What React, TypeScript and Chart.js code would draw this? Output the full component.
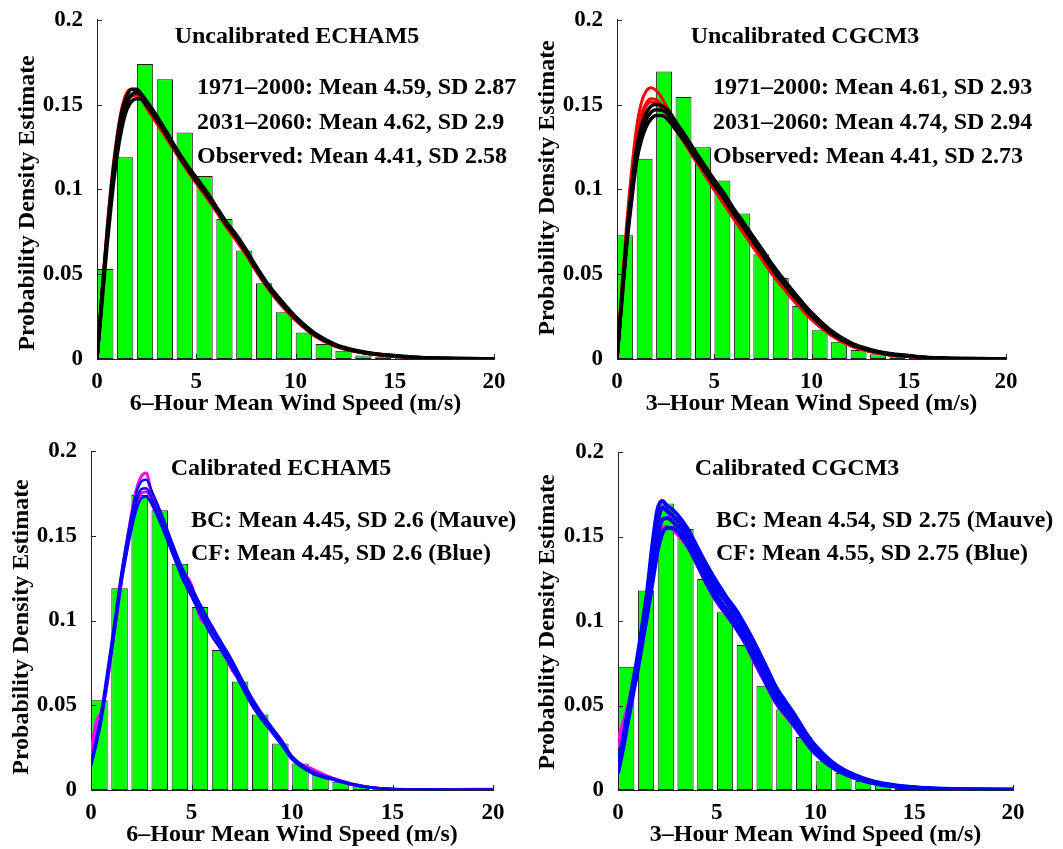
import React, { useEffect, useRef } from 'react';
import { Chart, registerables } from 'chart.js';

Chart.register(...registerables);

// ---------- DATA ----------
// histogram bin centres (m/s)
const BIN_CENTERS = [0.42, 1.42, 2.42, 3.42, 4.42, 5.42, 6.42, 7.42, 8.42, 9.42, 10.42, 11.42, 12.42, 13.42, 14.42, 15.42, 16.42, 17.42, 18.42, 19.42];
// observed histograms (probability density)
const OBS_6H_HIST = [0.053, 0.119, 0.174, 0.165, 0.1335, 0.1079, 0.0826, 0.064, 0.0446, 0.0275, 0.0156, 0.0089, 0.0048, 0.0021, 0.001, 0.0005, 0.0002, 0.0001, 0, 0];
const OBS_3H_HIST = [0.073, 0.118, 0.1695, 0.1545, 0.1248, 0.1052, 0.0858, 0.0617, 0.0478, 0.0313, 0.017, 0.0101, 0.0053, 0.0028, 0.0018, 0.0008, 0.0004, 0.0001, 0, 0];

// wind speed grid for the density curves
const X_GRID = [0, 0.25, 0.5, 0.75, 1, 1.25, 1.5, 1.75, 2, 2.25, 2.5, 2.75, 3, 3.5, 4, 4.5, 5, 5.5, 6, 6.5, 7, 7.5, 8, 8.5, 9, 9.5, 10, 11, 12, 13, 14, 15, 16, 18, 20];

// Uncalibrated ECHAM5
const ECHAM_1971_A = [0, 0.040, 0.076, 0.107, 0.131, 0.148, 0.157, 0.159, 0.157, 0.153, 0.148, 0.1435, 0.139, 0.130, 0.121, 0.112, 0.1035, 0.0955, 0.087, 0.078, 0.070, 0.0615, 0.052, 0.0432, 0.0355, 0.0288, 0.0228, 0.0133, 0.0075, 0.0044, 0.0026, 0.0016, 0.0008, 0.0002, 0.0001];
const ECHAM_1971_B = [0, 0.036, 0.071, 0.101, 0.125, 0.142, 0.151, 0.155, 0.1555, 0.1535, 0.150, 0.146, 0.141, 0.1315, 0.1218, 0.113, 0.1045, 0.0965, 0.0878, 0.079, 0.071, 0.0625, 0.053, 0.0442, 0.0365, 0.0297, 0.0235, 0.0138, 0.0078, 0.0046, 0.0027, 0.0017, 0.0009, 0.0002, 0.0001];
const ECHAM_2031_A = [0, 0.038, 0.073, 0.104, 0.128, 0.146, 0.155, 0.159, 0.159, 0.156, 0.152, 0.148, 0.1435, 0.134, 0.124, 0.115, 0.107, 0.099, 0.090, 0.081, 0.0735, 0.0647, 0.055, 0.046, 0.0384, 0.0315, 0.025, 0.0150, 0.0087, 0.0052, 0.0031, 0.0020, 0.0011, 0.0003, 0.0002];
const ECHAM_2031_B = [0, 0.036, 0.070, 0.100, 0.124, 0.141, 0.151, 0.156, 0.157, 0.155, 0.151, 0.147, 0.1425, 0.133, 0.123, 0.114, 0.1055, 0.098, 0.089, 0.080, 0.0725, 0.0637, 0.054, 0.045, 0.0374, 0.0306, 0.0243, 0.0144, 0.0082, 0.0049, 0.0029, 0.0019, 0.0010, 0.0003, 0.0002];
const ECHAM_2031_C = [0, 0.033, 0.066, 0.095, 0.119, 0.136, 0.147, 0.152, 0.1535, 0.153, 0.1495, 0.1455, 0.141, 0.132, 0.1222, 0.1133, 0.1048, 0.0972, 0.0883, 0.0795, 0.0718, 0.063, 0.0533, 0.0444, 0.0368, 0.0300, 0.0238, 0.0140, 0.0079, 0.0047, 0.0028, 0.0018, 0.0009, 0.0003, 0.0002];

// Uncalibrated CGCM3
const CGCM_1971_A = [0, 0.042, 0.080, 0.111, 0.136, 0.151, 0.158, 0.160, 0.1585, 0.155, 0.150, 0.1445, 0.139, 0.129, 0.119, 0.110, 0.1005, 0.092, 0.083, 0.0745, 0.066, 0.058, 0.0497, 0.0425, 0.0355, 0.0292, 0.0233, 0.014, 0.0078, 0.0044, 0.0024, 0.0014, 0.0006, 0.0002, 0.0001];
const CGCM_1971_B = [0, 0.039, 0.075, 0.105, 0.129, 0.144, 0.151, 0.1535, 0.153, 0.1505, 0.1465, 0.142, 0.137, 0.1275, 0.118, 0.109, 0.0998, 0.0915, 0.0828, 0.0745, 0.0662, 0.0582, 0.05, 0.0428, 0.0358, 0.0295, 0.0236, 0.0142, 0.008, 0.0045, 0.0025, 0.0015, 0.0007, 0.0002, 0.0001];
const CGCM_1971_C = [0, 0.038, 0.073, 0.103, 0.127, 0.142, 0.149, 0.1515, 0.151, 0.1485, 0.1448, 0.1405, 0.1358, 0.1268, 0.1175, 0.1087, 0.0997, 0.0913, 0.0826, 0.0743, 0.066, 0.058, 0.0498, 0.0426, 0.0356, 0.0293, 0.0234, 0.0141, 0.0079, 0.0045, 0.0025, 0.0015, 0.0007, 0.0002, 0.0001];
const CGCM_2031_A = [0, 0.038, 0.073, 0.101, 0.124, 0.137, 0.145, 0.149, 0.150, 0.1495, 0.148, 0.1448, 0.1402, 0.132, 0.1228, 0.1143, 0.1057, 0.0977, 0.0886, 0.0806, 0.0722, 0.064, 0.0555, 0.048, 0.0407, 0.0338, 0.0274, 0.0168, 0.0097, 0.0057, 0.0032, 0.0020, 0.0009, 0.0003, 0.0002];
const CGCM_2031_B = [0, 0.036, 0.070, 0.097, 0.120, 0.133, 0.141, 0.1455, 0.147, 0.1468, 0.1458, 0.1425, 0.138, 0.130, 0.121, 0.1126, 0.104, 0.096, 0.087, 0.079, 0.0706, 0.0624, 0.054, 0.0466, 0.0394, 0.0326, 0.0263, 0.016, 0.0092, 0.0053, 0.0029, 0.0018, 0.0008, 0.0003, 0.0002];
const CGCM_2031_C = [0, 0.034, 0.067, 0.093, 0.116, 0.129, 0.137, 0.1415, 0.1435, 0.1435, 0.1425, 0.1395, 0.1355, 0.128, 0.1193, 0.111, 0.1025, 0.0945, 0.0855, 0.0775, 0.0692, 0.061, 0.0527, 0.0453, 0.0382, 0.0315, 0.0253, 0.0153, 0.0087, 0.0050, 0.0027, 0.0016, 0.0007, 0.0002, 0.0002];

// Calibrated ECHAM5
const ECHAM_BC_A = [0.022, 0.040, 0.046, 0.058, 0.080, 0.102, 0.125, 0.144, 0.162, 0.177, 0.185, 0.187, 0.176, 0.161, 0.146, 0.131, 0.121, 0.100, 0.097, 0.082, 0.073, 0.065, 0.052, 0.045, 0.036, 0.029, 0.019, 0.0125, 0.0072, 0.0036, 0.0013, 0.0005, 0.0003, 0.0003, 0.0005];
const ECHAM_BC_B = [0.018, 0.034, 0.044, 0.060, 0.081, 0.101, 0.122, 0.140, 0.156, 0.168, 0.175, 0.176, 0.171, 0.158, 0.145, 0.128, 0.118, 0.104, 0.095, 0.086, 0.071, 0.064, 0.053, 0.044, 0.035, 0.028, 0.019, 0.011, 0.0068, 0.0034, 0.0014, 0.0006, 0.0003, 0.0002, 0.0003];
const ECHAM_CF_A = [0.016, 0.030, 0.045, 0.065, 0.085, 0.106, 0.127, 0.145, 0.161, 0.175, 0.182, 0.183, 0.177, 0.163, 0.147, 0.132, 0.120, 0.108, 0.097, 0.087, 0.077, 0.0655, 0.0545, 0.0452, 0.037, 0.029, 0.020, 0.011, 0.0069, 0.0035, 0.0015, 0.0006, 0.0003, 0.0002, 0.0002];
const ECHAM_CF_B = [0.015, 0.028, 0.042, 0.062, 0.082, 0.103, 0.124, 0.141, 0.157, 0.170, 0.1775, 0.178, 0.1725, 0.159, 0.144, 0.129, 0.117, 0.105, 0.094, 0.0845, 0.0745, 0.063, 0.052, 0.0432, 0.0354, 0.0275, 0.019, 0.0104, 0.0065, 0.0033, 0.0014, 0.0006, 0.0003, 0.0002, 0.0002];
const ECHAM_CF_C = [0.014, 0.026, 0.040, 0.059, 0.079, 0.100, 0.121, 0.138, 0.153, 0.165, 0.172, 0.173, 0.169, 0.156, 0.141, 0.126, 0.114, 0.102, 0.091, 0.082, 0.072, 0.061, 0.050, 0.0415, 0.034, 0.0262, 0.018, 0.0098, 0.0061, 0.003, 0.0013, 0.0005, 0.0003, 0.0002, 0.0002];

// Calibrated CGCM3
const CGCM_BC_A = [0.030, 0.040, 0.050, 0.062, 0.076, 0.094, 0.113, 0.135, 0.155, 0.168, 0.164, 0.160, 0.155, 0.147, 0.136, 0.123, 0.113, 0.105, 0.097, 0.087, 0.075, 0.064, 0.053, 0.045, 0.0375, 0.029, 0.022, 0.0128, 0.0075, 0.0042, 0.0023, 0.0013, 0.0007, 0.0003, 0.0002];
const CGCM_BC_B = [0.025, 0.035, 0.046, 0.060, 0.074, 0.090, 0.108, 0.128, 0.146, 0.155, 0.156, 0.154, 0.151, 0.144, 0.133, 0.121, 0.111, 0.103, 0.095, 0.085, 0.073, 0.062, 0.051, 0.0435, 0.036, 0.028, 0.021, 0.012, 0.007, 0.0039, 0.0021, 0.0012, 0.0006, 0.0002, 0.0002];
const CGCM_CF_A = [0.014, 0.030, 0.047, 0.063, 0.080, 0.099, 0.120, 0.146, 0.166, 0.171, 0.168, 0.166, 0.163, 0.155, 0.144, 0.133, 0.123, 0.114, 0.106, 0.096, 0.085, 0.073, 0.061, 0.052, 0.0435, 0.034, 0.0262, 0.0152, 0.0088, 0.0049, 0.0028, 0.0016, 0.0009, 0.0003, 0.0002];
const CGCM_CF_B = [0.013, 0.028, 0.044, 0.060, 0.077, 0.095, 0.115, 0.138, 0.158, 0.167, 0.165, 0.1625, 0.1595, 0.152, 0.141, 0.129, 0.119, 0.111, 0.1025, 0.093, 0.0815, 0.0698, 0.058, 0.0495, 0.0412, 0.032, 0.0243, 0.014, 0.0081, 0.0045, 0.0025, 0.0015, 0.0008, 0.0003, 0.0002];
const CGCM_CF_C = [0.011, 0.026, 0.042, 0.058, 0.073, 0.091, 0.109, 0.129, 0.149, 0.160, 0.161, 0.159, 0.156, 0.148, 0.137, 0.125, 0.115, 0.107, 0.0985, 0.089, 0.0775, 0.066, 0.055, 0.0465, 0.0388, 0.030, 0.0227, 0.013, 0.0075, 0.0041, 0.0023, 0.0013, 0.0007, 0.0003, 0.0002];
const CGCM_CF_D = [0.010, 0.024, 0.040, 0.056, 0.071, 0.088, 0.105, 0.123, 0.141, 0.152, 0.155, 0.155, 0.153, 0.145, 0.134, 0.122, 0.112, 0.104, 0.0955, 0.086, 0.0745, 0.063, 0.052, 0.0445, 0.037, 0.0285, 0.0215, 0.0122, 0.007, 0.0038, 0.0021, 0.0012, 0.0006, 0.0002, 0.0002];

const Y_TITLE = 'Probability Density Estimate';
const X_TITLE_6H = '6–Hour Mean Wind Speed (m/s)';
const X_TITLE_3H = '3–Hour Mean Wind Speed (m/s)';

// ---------- STYLE ----------
const FONT = '"Liberation Serif", "Times New Roman", serif';
const RED = '#ff0000';
const BLACK = '#000000';
const BLUE = '#0000ff';
const MAUVE = '#ff00ff';
const GREEN = '#00ff00';

type Curve = { values: number[]; color: string; width: number };
type PanelCfg = {
  left: number; top: number; w: number; h: number;
  yWidth: number; padTop: number; padRight: number; xHeight: number; xTitlePad: number;
  hist: number[]; curves: Curve[];
  title: string; titleX: number; titleY: number;
  stats: string[]; statsX: number; statsY: number[];
  xTitle: string; yTitleX: number; yTitleY: number;
};

const PANELS: PanelCfg[] = [
  {
    left: 0, top: 0, w: 530, h: 425, yWidth: 97, padTop: 17, padRight: 36, xHeight: 66, xTitlePad: 7,
    hist: OBS_6H_HIST,
    curves: [
      { values: ECHAM_1971_A, color: RED, width: 3 },
      { values: ECHAM_1971_B, color: RED, width: 3 },
      { values: ECHAM_2031_A, color: BLACK, width: 3.5 },
      { values: ECHAM_2031_B, color: BLACK, width: 3.5 },
      { values: ECHAM_2031_C, color: BLACK, width: 3.5 },
    ],
    title: 'Uncalibrated ECHAM5', titleX: 297, titleY: 43,
    stats: ['1971–2000: Mean 4.59, SD 2.87', '2031–2060: Mean 4.62, SD 2.9', 'Observed: Mean 4.41, SD 2.58'],
    statsX: 197, statsY: [94, 129, 163],
    xTitle: X_TITLE_6H, yTitleX: 28, yTitleY: 203,
  },
  {
    left: 530, top: 0, w: 533, h: 425, yWidth: 87, padTop: 17, padRight: 57, xHeight: 66, xTitlePad: 7,
    hist: OBS_3H_HIST,
    curves: [
      { values: CGCM_1971_A, color: RED, width: 3 },
      { values: CGCM_1971_B, color: RED, width: 3 },
      { values: CGCM_1971_C, color: RED, width: 3 },
      { values: CGCM_2031_A, color: BLACK, width: 3.5 },
      { values: CGCM_2031_B, color: BLACK, width: 3.5 },
      { values: CGCM_2031_C, color: BLACK, width: 3.5 },
    ],
    title: 'Uncalibrated CGCM3', titleX: 275, titleY: 43,
    stats: ['1971–2000: Mean 4.61, SD 2.93', '2031–2060: Mean 4.74, SD 2.94', 'Observed: Mean 4.41, SD 2.73'],
    statsX: 183, statsY: [94, 129, 163],
    xTitle: X_TITLE_3H, yTitleX: 18, yTitleY: 188,
  },
  {
    left: 0, top: 425, w: 530, h: 424, yWidth: 91, padTop: 26, padRight: 37, xHeight: 59, xTitlePad: 0,
    hist: OBS_6H_HIST,
    curves: [
      { values: ECHAM_BC_A, color: MAUVE, width: 3 },
      { values: ECHAM_BC_B, color: MAUVE, width: 3 },
      { values: ECHAM_CF_A, color: BLUE, width: 2.5 },
      { values: ECHAM_CF_B, color: BLUE, width: 2.5 },
      { values: ECHAM_CF_C, color: BLUE, width: 2.5 },
    ],
    title: 'Calibrated ECHAM5', titleX: 281, titleY: 50,
    stats: ['BC: Mean 4.45, SD 2.6 (Mauve)', 'CF: Mean 4.45, SD 2.6 (Blue)'],
    statsX: 191, statsY: [102, 135],
    xTitle: X_TITLE_6H, yTitleX: 22, yTitleY: 202,
  },
  {
    left: 530, top: 425, w: 533, h: 424, yWidth: 88, padTop: 27, padRight: 50, xHeight: 59, xTitlePad: 0,
    hist: OBS_3H_HIST,
    curves: [
      { values: CGCM_BC_A, color: MAUVE, width: 3 },
      { values: CGCM_BC_B, color: MAUVE, width: 3 },
      { values: CGCM_CF_A, color: BLUE, width: 4 },
      { values: CGCM_CF_B, color: BLUE, width: 4 },
      { values: CGCM_CF_C, color: BLUE, width: 4 },
      { values: CGCM_CF_D, color: BLUE, width: 4 },
    ],
    title: 'Calibrated CGCM3', titleX: 267, titleY: 50,
    stats: ['BC: Mean 4.54, SD 2.75 (Mauve)', 'CF: Mean 4.55, SD 2.75 (Blue)'],
    statsX: 186, statsY: [102, 135],
    xTitle: X_TITLE_3H, yTitleX: 18, yTitleY: 197,
  },
];

const textPlugin = {
  id: 'panelText',
  afterDraw(chart: any) {
    const cfg: PanelCfg = chart.options.plugins.panelText.cfg;
    const ctx = chart.ctx;
    const area = chart.chartArea;
    const xs = chart.scales.x;
    const ys = chart.scales.y;
    ctx.save();
    // inward tick marks (MATLAB style)
    ctx.strokeStyle = '#222';
    ctx.lineWidth = 1;
    ctx.beginPath();
    ys.ticks.forEach((t: any) => {
      if (t.value === 0) return;
      const py = Math.round(ys.getPixelForValue(t.value)) + 0.5;
      ctx.moveTo(area.left, py);
      ctx.lineTo(area.left + 5, py);
    });
    xs.ticks.forEach((t: any) => {
      if (t.value === 0) return;
      const px = Math.round(xs.getPixelForValue(t.value)) + 0.5;
      ctx.moveTo(px, area.bottom);
      ctx.lineTo(px, area.bottom - 5);
    });
    ctx.stroke();

    ctx.fillStyle = '#000';
    ctx.font = `bold 24px ${FONT}`;
    ctx.textBaseline = 'alphabetic';
    ctx.textAlign = 'center';
    ctx.fillText(cfg.title, cfg.titleX, cfg.titleY);
    ctx.textAlign = 'left';
    cfg.stats.forEach((s, i) => ctx.fillText(s, cfg.statsX, cfg.statsY[i]));
    // y axis title
    ctx.translate(cfg.yTitleX, cfg.yTitleY);
    ctx.rotate(-Math.PI / 2);
    ctx.textAlign = 'center';
    ctx.textBaseline = 'middle';
    ctx.fillText(Y_TITLE, 0, 0);
    ctx.restore();
  },
};

function Panel({ cfg }: { cfg: PanelCfg }) {
  const ref = useRef<HTMLCanvasElement | null>(null);
  useEffect(() => {
    if (!ref.current) return;
    const n = cfg.curves.length + 1;
    const datasets: any[] = [
      {
        type: 'bar',
        data: BIN_CENTERS.map((x, i) => ({ x, y: cfg.hist[i] })),
        backgroundColor: GREEN,
        borderColor: '#1e1e1e',
        borderWidth: 1,
        borderSkipped: false,
        barPercentage: 0.82,
        categoryPercentage: 1,
        order: n,
      },
      ...cfg.curves.map((c, i) => ({
        type: 'line',
        data: X_GRID.map((x, j) => ({ x, y: c.values[j] })),
        borderColor: c.color,
        borderWidth: c.width,
        pointRadius: 0,
        fill: false,
        cubicInterpolationMode: 'monotone',
        order: n - 1 - i,
      })),
    ];
    const tickFont = { family: FONT, size: 23, weight: 'bold' as const };
    const chart = new Chart(ref.current, {
      type: 'bar',
      data: { datasets },
      plugins: [textPlugin],
      options: {
        animation: false,
        responsive: false,
        devicePixelRatio: 1,
        layout: { padding: { left: 0, top: cfg.padTop, right: cfg.padRight, bottom: 0 } },
        plugins: {
          legend: { display: false },
          tooltip: { enabled: false },
          // @ts-ignore
          panelText: { cfg },
        },
        scales: {
          x: {
            type: 'linear',
            min: 0,
            max: 20,
            offset: false,
            grid: { display: false, offset: false },
            border: { display: true, color: '#222', width: 1 },
            ticks: { stepSize: 5, font: tickFont, color: '#000', padding: 1, maxRotation: 0 },
            title: {
              display: true,
              text: cfg.xTitle,
              color: '#000',
              font: { family: FONT, size: 24, weight: 'bold' },
              padding: { top: 0, bottom: cfg.xTitlePad },
            },
            afterFit: (s: any) => { s.height = cfg.xHeight; },
          },
          y: {
            type: 'linear',
            min: 0,
            max: 0.2,
            grid: { display: false },
            border: { display: true, color: '#222', width: 1 },
            ticks: {
              stepSize: 0.05,
              font: tickFont,
              color: '#000',
              padding: 6,
              callback: (v: any) => String(+Number(v).toFixed(2)),
            },
            afterFit: (s: any) => { s.width = cfg.yWidth; },
          },
        },
      } as any,
    });
    return () => chart.destroy();
  }, [cfg]);
  return (
    <canvas
      ref={ref}
      width={cfg.w}
      height={cfg.h}
      style={{ position: 'absolute', left: cfg.left, top: cfg.top, width: cfg.w, height: cfg.h }}
    />
  );
}

export default function App() {
  return (
    <div style={{ position: 'absolute', left: 0, top: 0, width: 1063, height: 849, background: '#fff', overflow: 'hidden' }}>
      {PANELS.map((p, i) => (
        <Panel key={i} cfg={p} />
      ))}
    </div>
  );
}
